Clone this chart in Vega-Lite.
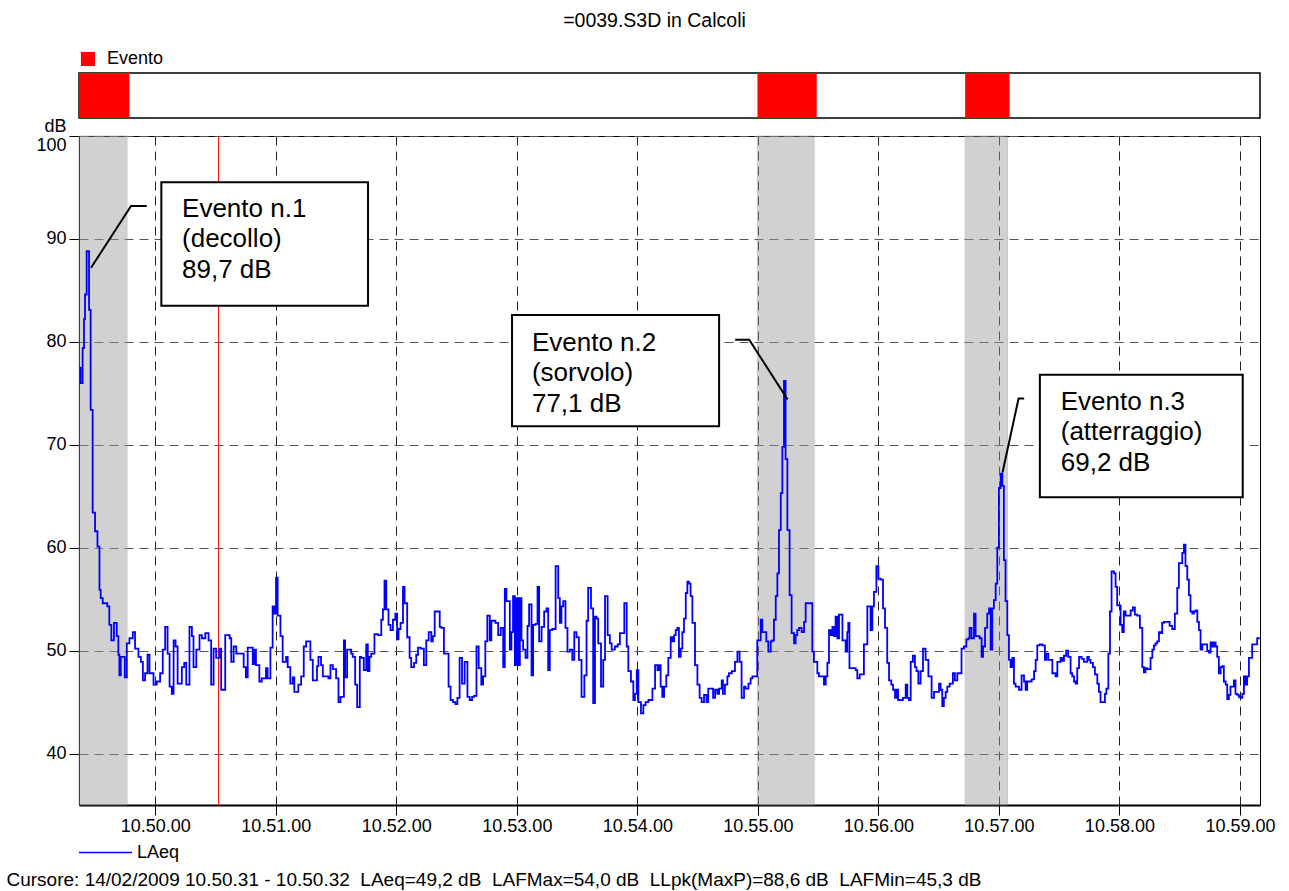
{
  "$schema": "https://vega.github.io/schema/vega-lite/v6.json",
  "background": "white",
  "padding": {"left": 5, "top": 10, "right": 10, "bottom": 2},
  "title": {"text": "=0039.S3D in Calcoli", "fontSize": 19.5, "fontWeight": "normal", "font": "Liberation Sans", "color": "black", "anchor": "middle", "offset": 18, "dx": 14},
  "config": {
    "font": "Liberation Sans",
    "view": {"stroke": "black", "strokeWidth": 1},
    "axis": {"labelColor": "black", "titleColor": "black", "labelFont": "Liberation Sans", "titleFont": "Liberation Sans"},
    "legend": {"labelColor": "black", "labelFont": "Liberation Sans"}
  },
  "datasets": {
    "events": [
      {"start": -38, "end": -14.1, "bar_end": -12.9},
      {"start": 299.8, "end": 328.0, "bar_end": 329.3},
      {"start": 403.2, "end": 424.3, "bar_end": 425.3}
    ],
    "trace": [
      {"t": -37.8, "v": 77.5}, {"t": -37.2, "v": 76.0}, {"t": -36.2, "v": 79.4}, {"t": -35.5, "v": 82.2}, {"t": -35.0, "v": 84.6}, {"t": -34.2, "v": 88.8}, {"t": -33.0, "v": 83.1}, {"t": -32.2, "v": 73.4}, {"t": -31.2, "v": 63.4}, {"t": -30.0, "v": 61.6}, {"t": -28.8, "v": 60.1}, {"t": -27.8, "v": 55.9}, {"t": -27.2, "v": 55.1}, {"t": -26.2, "v": 54.6}, {"t": -23.9, "v": 54.3}, {"t": -22.9, "v": 52.5}, {"t": -21.9, "v": 51.0}, {"t": -20.6, "v": 52.7}, {"t": -19.2, "v": 51.4}, {"t": -18.4, "v": 49.6}, {"t": -17.9, "v": 47.6}, {"t": -17.2, "v": 49.4}, {"t": -15.2, "v": 47.4}, {"t": -14.2, "v": 50.7}, {"t": -12.9, "v": 51.2}, {"t": -11.2, "v": 51.8}, {"t": -10.1, "v": 50.2}, {"t": -8.4, "v": 49.4}, {"t": -7.2, "v": 48.9}, {"t": -6.2, "v": 47.1}, {"t": -5.1, "v": 47.8}, {"t": -3.9, "v": 49.6}, {"t": -2.9, "v": 47.8}, {"t": -0.9, "v": 46.7}, {"t": 0.7, "v": 47.0}, {"t": 2.4, "v": 47.8}, {"t": 3.7, "v": 50.1}, {"t": 4.9, "v": 52.3}, {"t": 6.1, "v": 49.7}, {"t": 7.1, "v": 46.5}, {"t": 8.2, "v": 45.8}, {"t": 9.1, "v": 51.0}, {"t": 10.1, "v": 50.4}, {"t": 11.1, "v": 46.8}, {"t": 13.2, "v": 48.4}, {"t": 14.4, "v": 48.8}, {"t": 15.4, "v": 46.7}, {"t": 17.0, "v": 52.3}, {"t": 18.2, "v": 51.4}, {"t": 19.0, "v": 48.4}, {"t": 20.4, "v": 50.1}, {"t": 22.0, "v": 51.5}, {"t": 23.2, "v": 51.2}, {"t": 24.9, "v": 51.7}, {"t": 26.5, "v": 51.0}, {"t": 27.8, "v": 46.7}, {"t": 29.0, "v": 50.2}, {"t": 30.3, "v": 49.3}, {"t": 32.0, "v": 50.2}, {"t": 32.8, "v": 46.2}, {"t": 34.8, "v": 51.5}, {"t": 37.0, "v": 51.2}, {"t": 37.8, "v": 48.9}, {"t": 39.0, "v": 50.4}, {"t": 40.3, "v": 49.7},
      {"t": 42.6, "v": 49.7}, {"t": 44.0, "v": 48.4}, {"t": 45.1, "v": 47.4}, {"t": 46.0, "v": 50.3}, {"t": 48.5, "v": 48.7}, {"t": 49.3, "v": 50.1}, {"t": 50.1, "v": 48.6}, {"t": 51.8, "v": 47.0}, {"t": 53.0, "v": 47.3}, {"t": 55.1, "v": 48.3}, {"t": 55.9, "v": 47.3}, {"t": 57.3, "v": 50.3}, {"t": 58.4, "v": 54.3}, {"t": 59.3, "v": 53.6}, {"t": 60.1, "v": 57.1}, {"t": 60.9, "v": 53.4}, {"t": 62.3, "v": 51.4}, {"t": 63.4, "v": 48.9}, {"t": 65.1, "v": 49.4}, {"t": 65.9, "v": 48.4}, {"t": 67.2, "v": 46.8}, {"t": 68.4, "v": 47.4}, {"t": 69.2, "v": 46.0}, {"t": 71.2, "v": 46.7}, {"t": 72.6, "v": 47.5}, {"t": 73.9, "v": 50.4}, {"t": 75.1, "v": 50.9}, {"t": 77.2, "v": 49.1}, {"t": 78.4, "v": 47.1}, {"t": 80.5, "v": 48.5}, {"t": 81.2, "v": 49.4}, {"t": 82.5, "v": 48.6}, {"t": 83.4, "v": 47.5}, {"t": 86.2, "v": 47.3}, {"t": 87.2, "v": 48.6}, {"t": 88.4, "v": 48.2}, {"t": 90.0, "v": 47.3}, {"t": 91.2, "v": 45.0}, {"t": 92.2, "v": 45.5}, {"t": 93.9, "v": 51.0}, {"t": 94.5, "v": 47.4}, {"t": 95.5, "v": 50.1}, {"t": 97.5, "v": 49.7}, {"t": 98.3, "v": 49.4}, {"t": 99.5, "v": 46.7}, {"t": 100.5, "v": 44.5}, {"t": 101.8, "v": 49.4}, {"t": 102.5, "v": 49.3}, {"t": 103.8, "v": 48.1}, {"t": 105.0, "v": 50.6}, {"t": 105.8, "v": 48.0}, {"t": 106.6, "v": 49.4}, {"t": 107.5, "v": 49.7}, {"t": 109.1, "v": 51.6}, {"t": 110.8, "v": 51.5}, {"t": 112.5, "v": 53.0}, {"t": 113.3, "v": 54.0}, {"t": 114.1, "v": 56.8}, {"t": 115.0, "v": 54.0}, {"t": 116.1, "v": 52.5}, {"t": 117.1, "v": 52.0}, {"t": 118.3, "v": 53.0}, {"t": 119.5, "v": 53.6}, {"t": 120.4, "v": 51.1}, {"t": 121.1, "v": 52.1}, {"t": 122.1, "v": 52.7}, {"t": 123.3, "v": 56.2}, {"t": 124.1, "v": 54.6}, {"t": 125.4, "v": 51.3}, {"t": 126.6, "v": 49.3}, {"t": 127.4, "v": 48.4}, {"t": 128.8, "v": 48.8}, {"t": 129.9, "v": 49.6}, {"t": 130.8, "v": 50.3}, {"t": 132.1, "v": 50.2}, {"t": 133.7, "v": 48.6}, {"t": 134.9, "v": 51.0}, {"t": 136.1, "v": 51.8}, {"t": 137.4, "v": 50.9}, {"t": 138.2, "v": 51.4}, {"t": 139.1, "v": 53.8}, {"t": 141.6, "v": 52.3}, {"t": 142.4, "v": 52.2}, {"t": 143.7, "v": 49.7}, {"t": 146.0, "v": 46.5},
      {"t": 147.0, "v": 45.2}, {"t": 148.2, "v": 45.0}, {"t": 149.4, "v": 44.8}, {"t": 150.4, "v": 45.4}, {"t": 151.5, "v": 49.3}, {"t": 152.7, "v": 46.8}, {"t": 154.0, "v": 48.9}, {"t": 155.4, "v": 45.5}, {"t": 156.5, "v": 45.2}, {"t": 157.7, "v": 45.5}, {"t": 158.7, "v": 45.6}, {"t": 159.9, "v": 50.4}, {"t": 161.0, "v": 48.3}, {"t": 162.3, "v": 46.7}, {"t": 163.2, "v": 47.5}, {"t": 164.3, "v": 50.9}, {"t": 165.3, "v": 53.4}, {"t": 166.5, "v": 51.0}, {"t": 167.3, "v": 52.9}, {"t": 169.3, "v": 52.7}, {"t": 170.7, "v": 51.5}, {"t": 172.0, "v": 52.2}, {"t": 173.2, "v": 48.4}, {"t": 174.0, "v": 56.0}, {"t": 174.8, "v": 54.8}, {"t": 176.5, "v": 50.1}, {"t": 177.3, "v": 51.8}, {"t": 178.1, "v": 55.3}, {"t": 179.0, "v": 48.6}, {"t": 179.8, "v": 55.1}, {"t": 180.6, "v": 48.6}, {"t": 181.5, "v": 55.1}, {"t": 182.3, "v": 51.0}, {"t": 183.1, "v": 50.1}, {"t": 184.3, "v": 49.3}, {"t": 185.3, "v": 52.4}, {"t": 186.1, "v": 54.5}, {"t": 187.3, "v": 47.6}, {"t": 188.1, "v": 52.5}, {"t": 189.3, "v": 52.6}, {"t": 190.3, "v": 56.2}, {"t": 191.1, "v": 50.9}, {"t": 192.3, "v": 52.3}, {"t": 193.6, "v": 53.8}, {"t": 194.8, "v": 54.1}, {"t": 195.6, "v": 48.1}, {"t": 196.4, "v": 52.0}, {"t": 197.6, "v": 52.1}, {"t": 199.3, "v": 58.2}, {"t": 200.6, "v": 55.1}, {"t": 201.4, "v": 52.7}, {"t": 202.2, "v": 54.3}, {"t": 203.1, "v": 54.8}, {"t": 204.2, "v": 52.2}, {"t": 205.2, "v": 49.9}, {"t": 206.4, "v": 50.1}, {"t": 207.6, "v": 49.1}, {"t": 208.6, "v": 51.8}, {"t": 209.7, "v": 51.3}, {"t": 210.9, "v": 49.1}, {"t": 212.2, "v": 45.5}, {"t": 213.6, "v": 47.6}, {"t": 214.7, "v": 52.9}, {"t": 215.5, "v": 56.1}, {"t": 216.9, "v": 54.1}, {"t": 218.0, "v": 44.9}, {"t": 218.9, "v": 53.3}, {"t": 219.7, "v": 53.1}, {"t": 220.5, "v": 50.7}, {"t": 221.9, "v": 46.5}, {"t": 223.0, "v": 49.1}, {"t": 223.9, "v": 55.3}, {"t": 225.2, "v": 51.5}, {"t": 226.3, "v": 50.7}, {"t": 227.2, "v": 50.1}, {"t": 228.8, "v": 50.4}, {"t": 230.2, "v": 50.6}, {"t": 231.3, "v": 51.7}, {"t": 233.5, "v": 54.6}, {"t": 234.7, "v": 50.4}, {"t": 235.5, "v": 48.0}, {"t": 236.8, "v": 47.0}, {"t": 238.0, "v": 45.2}, {"t": 238.8, "v": 45.8}, {"t": 239.7, "v": 48.1}, {"t": 240.5, "v": 45.0}, {"t": 241.8, "v": 43.9}, {"t": 243.0, "v": 44.7}, {"t": 244.1, "v": 45.0}, {"t": 245.5, "v": 45.2},
      {"t": 247.5, "v": 46.3}, {"t": 248.8, "v": 48.6}, {"t": 250.0, "v": 48.1}, {"t": 250.8, "v": 48.6}, {"t": 251.6, "v": 46.5}, {"t": 252.4, "v": 45.5}, {"t": 253.3, "v": 46.5}, {"t": 254.4, "v": 47.6}, {"t": 255.4, "v": 49.3}, {"t": 256.6, "v": 51.3}, {"t": 257.4, "v": 50.9}, {"t": 258.3, "v": 51.5}, {"t": 259.1, "v": 52.0}, {"t": 259.9, "v": 52.2}, {"t": 260.7, "v": 49.4}, {"t": 261.6, "v": 50.2}, {"t": 262.4, "v": 51.8}, {"t": 263.2, "v": 53.1}, {"t": 264.1, "v": 55.6}, {"t": 264.9, "v": 56.7}, {"t": 265.7, "v": 56.5}, {"t": 266.5, "v": 55.3}, {"t": 267.4, "v": 52.7}, {"t": 268.7, "v": 48.6}, {"t": 269.9, "v": 46.7}, {"t": 271.0, "v": 45.4}, {"t": 272.0, "v": 45.0}, {"t": 273.2, "v": 45.7}, {"t": 274.4, "v": 45.0}, {"t": 275.3, "v": 46.3}, {"t": 277.7, "v": 45.4}, {"t": 278.7, "v": 46.2}, {"t": 279.8, "v": 45.8}, {"t": 280.7, "v": 46.3}, {"t": 282.0, "v": 47.1}, {"t": 282.6, "v": 45.8}, {"t": 283.6, "v": 46.7}, {"t": 284.8, "v": 47.5}, {"t": 285.6, "v": 47.8}, {"t": 287.0, "v": 48.0}, {"t": 288.6, "v": 48.9}, {"t": 289.8, "v": 49.9}, {"t": 290.9, "v": 48.9}, {"t": 291.9, "v": 45.4}, {"t": 293.1, "v": 46.5}, {"t": 293.9, "v": 46.3}, {"t": 295.3, "v": 46.8}, {"t": 296.4, "v": 47.3}, {"t": 297.3, "v": 47.5}, {"t": 299.7, "v": 51.0}, {"t": 301.4, "v": 53.0}, {"t": 302.2, "v": 51.8}, {"t": 304.2, "v": 50.9}, {"t": 305.2, "v": 49.9}, {"t": 306.4, "v": 50.9}, {"t": 307.2, "v": 51.0}, {"t": 308.0, "v": 53.0}, {"t": 308.9, "v": 55.3}, {"t": 309.7, "v": 57.5}, {"t": 310.5, "v": 61.7}, {"t": 311.4, "v": 65.3}, {"t": 312.2, "v": 69.8}, {"t": 313.0, "v": 76.2}, {"t": 313.8, "v": 68.6}, {"t": 314.7, "v": 61.7}, {"t": 315.8, "v": 55.4}, {"t": 316.8, "v": 51.7}, {"t": 318.0, "v": 50.7}, {"t": 318.8, "v": 51.5}, {"t": 319.6, "v": 52.0}, {"t": 320.5, "v": 52.2}, {"t": 321.8, "v": 51.8}, {"t": 323.0, "v": 52.8}, {"t": 323.8, "v": 54.6}, {"t": 327.1, "v": 49.9}, {"t": 327.9, "v": 48.9}, {"t": 329.6, "v": 47.8}, {"t": 330.4, "v": 47.5}, {"t": 332.9, "v": 46.7}, {"t": 333.8, "v": 47.5}, {"t": 334.6, "v": 48.8}, {"t": 335.4, "v": 52.0}, {"t": 336.2, "v": 51.5}, {"t": 337.1, "v": 52.3}, {"t": 337.9, "v": 51.4}, {"t": 338.7, "v": 53.3}, {"t": 339.6, "v": 51.2}, {"t": 340.4, "v": 53.5}, {"t": 342.1, "v": 51.0}, {"t": 343.7, "v": 49.9}, {"t": 344.5, "v": 51.8}, {"t": 345.0, "v": 52.7}, {"t": 345.6, "v": 48.3},
      {"t": 348.7, "v": 48.1}, {"t": 349.5, "v": 47.3}, {"t": 350.7, "v": 47.7}, {"t": 352.8, "v": 50.6}, {"t": 354.5, "v": 54.3}, {"t": 356.1, "v": 52.0}, {"t": 357.0, "v": 54.3}, {"t": 357.8, "v": 55.7}, {"t": 359.0, "v": 58.2}, {"t": 360.0, "v": 57.0}, {"t": 361.1, "v": 56.9}, {"t": 362.3, "v": 54.1}, {"t": 363.3, "v": 52.2}, {"t": 364.4, "v": 48.8}, {"t": 365.3, "v": 47.1}, {"t": 366.4, "v": 46.7}, {"t": 367.3, "v": 46.2}, {"t": 368.3, "v": 45.4}, {"t": 368.9, "v": 46.2}, {"t": 369.8, "v": 45.2}, {"t": 372.2, "v": 45.4}, {"t": 373.6, "v": 46.7}, {"t": 374.4, "v": 45.4}, {"t": 375.2, "v": 45.2}, {"t": 376.1, "v": 48.9}, {"t": 377.2, "v": 49.5}, {"t": 378.2, "v": 48.4}, {"t": 379.0, "v": 48.0}, {"t": 379.9, "v": 46.8}, {"t": 381.0, "v": 48.0}, {"t": 382.2, "v": 50.2}, {"t": 383.5, "v": 49.1}, {"t": 384.9, "v": 47.5}, {"t": 386.5, "v": 45.4}, {"t": 387.7, "v": 46.0}, {"t": 390.2, "v": 46.8}, {"t": 391.0, "v": 46.2}, {"t": 391.8, "v": 44.6}, {"t": 392.6, "v": 45.4}, {"t": 393.5, "v": 46.0}, {"t": 394.3, "v": 46.5}, {"t": 395.5, "v": 46.8}, {"t": 397.1, "v": 47.8}, {"t": 398.1, "v": 47.1}, {"t": 399.3, "v": 47.8}, {"t": 401.4, "v": 50.2}, {"t": 402.6, "v": 50.4}, {"t": 403.8, "v": 51.1}, {"t": 404.8, "v": 51.2}, {"t": 405.4, "v": 52.2}, {"t": 406.4, "v": 51.2}, {"t": 407.6, "v": 53.6}, {"t": 408.4, "v": 51.4}, {"t": 410.4, "v": 51.2}, {"t": 411.4, "v": 49.4}, {"t": 412.1, "v": 50.4}, {"t": 413.1, "v": 52.2}, {"t": 414.2, "v": 53.6}, {"t": 415.1, "v": 54.1}, {"t": 415.9, "v": 50.1}, {"t": 416.7, "v": 54.1}, {"t": 417.5, "v": 54.9}, {"t": 418.4, "v": 56.5}, {"t": 419.2, "v": 60.0}, {"t": 420.0, "v": 65.8}, {"t": 420.9, "v": 67.2}, {"t": 421.7, "v": 66.0}, {"t": 422.5, "v": 58.8}, {"t": 423.3, "v": 54.8}, {"t": 424.2, "v": 51.5}, {"t": 425.0, "v": 49.1}, {"t": 425.8, "v": 48.4}, {"t": 426.7, "v": 49.3}, {"t": 427.5, "v": 46.8}, {"t": 428.3, "v": 46.5}, {"t": 430.0, "v": 46.2}, {"t": 431.3, "v": 47.6}, {"t": 432.5, "v": 47.0}, {"t": 433.3, "v": 46.2}, {"t": 434.1, "v": 47.0}, {"t": 436.3, "v": 47.2}, {"t": 437.5, "v": 48.0}, {"t": 438.3, "v": 49.1}, {"t": 439.1, "v": 50.5}, {"t": 440.3, "v": 50.6}, {"t": 441.6, "v": 50.5}, {"t": 442.9, "v": 49.1}, {"t": 443.6, "v": 49.7}, {"t": 444.6, "v": 49.1}, {"t": 446.6, "v": 47.8},
      {"t": 448.2, "v": 47.5}, {"t": 449.1, "v": 48.9}, {"t": 450.7, "v": 49.3}, {"t": 451.6, "v": 49.0}, {"t": 452.4, "v": 49.5}, {"t": 453.5, "v": 50.0}, {"t": 454.5, "v": 49.4}, {"t": 455.7, "v": 47.8}, {"t": 456.5, "v": 47.5}, {"t": 457.4, "v": 47.0}, {"t": 458.2, "v": 46.8}, {"t": 459.0, "v": 48.3}, {"t": 459.9, "v": 49.4}, {"t": 461.2, "v": 49.2}, {"t": 462.3, "v": 48.9}, {"t": 464.0, "v": 49.4}, {"t": 464.8, "v": 49.1}, {"t": 465.6, "v": 48.8}, {"t": 466.8, "v": 48.4}, {"t": 467.8, "v": 47.7}, {"t": 469.0, "v": 46.8}, {"t": 469.8, "v": 46.0}, {"t": 470.6, "v": 45.0}, {"t": 472.8, "v": 45.8}, {"t": 473.5, "v": 46.3}, {"t": 474.5, "v": 49.7}, {"t": 475.3, "v": 53.8}, {"t": 476.1, "v": 57.7}, {"t": 477.3, "v": 57.5}, {"t": 478.1, "v": 56.2}, {"t": 478.9, "v": 54.4}, {"t": 480.6, "v": 52.5}, {"t": 481.4, "v": 51.8}, {"t": 482.2, "v": 53.8}, {"t": 483.1, "v": 53.4}, {"t": 485.6, "v": 53.9}, {"t": 486.7, "v": 54.2}, {"t": 487.7, "v": 53.5}, {"t": 488.9, "v": 53.4}, {"t": 490.2, "v": 52.2}, {"t": 491.4, "v": 48.4}, {"t": 492.2, "v": 47.9}, {"t": 493.0, "v": 48.3}, {"t": 493.9, "v": 48.2}, {"t": 495.5, "v": 49.3}, {"t": 496.4, "v": 50.1}, {"t": 497.2, "v": 50.5}, {"t": 498.0, "v": 50.7}, {"t": 498.8, "v": 50.9}, {"t": 499.7, "v": 51.8}, {"t": 500.5, "v": 51.7}, {"t": 501.3, "v": 52.7}, {"t": 502.2, "v": 52.8}, {"t": 505.0, "v": 52.4}, {"t": 506.3, "v": 52.1}, {"t": 507.6, "v": 53.6}, {"t": 508.8, "v": 56.1}, {"t": 509.6, "v": 58.5}, {"t": 511.3, "v": 59.5}, {"t": 512.1, "v": 60.3}, {"t": 512.9, "v": 58.2}, {"t": 513.8, "v": 56.9}, {"t": 514.6, "v": 55.4}, {"t": 515.4, "v": 53.8}, {"t": 516.3, "v": 53.6}, {"t": 517.1, "v": 53.8}, {"t": 517.9, "v": 53.9}, {"t": 518.8, "v": 52.8}, {"t": 519.6, "v": 52.0}, {"t": 520.4, "v": 50.1}, {"t": 521.3, "v": 50.6}, {"t": 523.7, "v": 50.0}, {"t": 524.6, "v": 49.8}, {"t": 525.4, "v": 50.8}, {"t": 526.2, "v": 50.4}, {"t": 527.0, "v": 50.8}, {"t": 527.9, "v": 50.4}, {"t": 528.7, "v": 49.4}, {"t": 529.5, "v": 47.8}, {"t": 530.4, "v": 48.4}, {"t": 531.2, "v": 48.5}, {"t": 532.0, "v": 47.0}, {"t": 532.9, "v": 46.7}, {"t": 533.7, "v": 45.3}, {"t": 534.5, "v": 45.7}, {"t": 535.3, "v": 46.5}, {"t": 537.0, "v": 47.1}, {"t": 537.8, "v": 45.8}, {"t": 538.7, "v": 45.7}, {"t": 539.5, "v": 45.5}, {"t": 540.3, "v": 45.4}, {"t": 541.2, "v": 45.8}, {"t": 542.0, "v": 47.5}, {"t": 542.8, "v": 46.7}, {"t": 543.6, "v": 47.5}, {"t": 544.5, "v": 49.3}, {"t": 546.1, "v": 50.6}, {"t": 548.6, "v": 51.2}, {"t": 549.9, "v": 51.2}
    ],
    "boxes": [
      {"id": 1, "x1": 3.0, "x2": 105.9, "y1": 95.5, "y2": 83.5, "tx": 13.3, "ty": 92.16, "lines": ["Evento n.1", "(decollo)", "89,7 dB"]},
      {"id": 2, "x1": 177.6, "x2": 280.7, "y1": 82.6, "y2": 71.8, "tx": 187.5, "ty": 79.15, "lines": ["Evento n.2", "(sorvolo)", "77,1 dB"]},
      {"id": 3, "x1": 440.4, "x2": 541.4, "y1": 76.8, "y2": 64.9, "tx": 450.8, "ty": 73.4, "lines": ["Evento n.3", "(atterraggio)", "69,2 dB"]}
    ],
    "leaders": [
      {"id": 1, "o": 0, "t": -4.3, "v": 93.2}, {"id": 1, "o": 1, "t": -12.1, "v": 93.2}, {"id": 1, "o": 2, "t": -32.0, "v": 87.2},
      {"id": 2, "o": 0, "t": 288.7, "v": 80.2}, {"id": 2, "o": 1, "t": 295.7, "v": 80.2}, {"id": 2, "o": 2, "t": 314.8, "v": 74.4},
      {"id": 3, "o": 0, "t": 432.6, "v": 74.5}, {"id": 3, "o": 1, "t": 429.8, "v": 74.5}, {"id": 3, "o": 2, "t": 421.8, "v": 67.3}
    ]
  },
  "spacing": -3,
  "resolve": {"scale": {"x": "independent", "color": "independent"}},
  "vconcat": [
    {
      "width": 1181,
      "height": 45,
      "view": {"stroke": "black", "strokeWidth": 1.5},
      "data": {"name": "events"},
      "mark": {"type": "rect"},
      "encoding": {
        "x": {"field": "start", "type": "quantitative", "scale": {"domain": [-38, 550], "nice": false, "zero": false}, "axis": null},
        "x2": {"field": "bar_end"},
        "color": {"datum": "Evento", "type": "nominal", "scale": {"range": ["#ff0000"]},
          "legend": {"orient": "none", "legendX": 0, "legendY": -23, "title": null, "symbolType": "square", "symbolSize": 200, "symbolStrokeWidth": 0, "symbolOpacity": 1, "labelFontSize": 18, "labelOffset": 10, "padding": 0}}
      }
    },
    {
      "width": 1181,
      "height": 669,
      "layer": [
        {
          "data": {"name": "events"},
          "mark": {"type": "rect", "fill": "#9a9a9a", "opacity": 0.45, "stroke": "#888888", "strokeWidth": 1},
          "encoding": {
            "x": {"field": "start", "type": "quantitative", "scale": {"domain": [-38, 550], "nice": false, "zero": false}},
            "x2": {"field": "end"}
          }
        },
        {
          "data": {"values": [{"t": 31.5}]},
          "mark": {"type": "rule", "color": "#ff0000", "strokeWidth": 1},
          "encoding": {"x": {"field": "t", "type": "quantitative"}}
        },
        {
          "data": {"name": "trace"},
          "mark": {"type": "line", "interpolate": "step-after", "strokeWidth": 1.8},
          "encoding": {
            "x": {"field": "t", "type": "quantitative", "scale": {"domain": [-38, 550], "nice": false, "zero": false},
              "axis": {"values": [0, 60, 120, 180, 240, 300, 360, 420, 480, 540], "labelExpr": "'10.5' + format(datum.value / 60, 'd') + '.00'",
                "title": "Cursore: 14/02/2009 10.50.31 - 10.50.32\u00a0 LAeq=49,2 dB\u00a0 LAFMax=54,0 dB\u00a0 LLpk(MaxP)=88,6 dB\u00a0 LAFMin=45,3 dB",
                "titleX": -73, "titleY": 80, "titleAlign": "left", "titleAnchor": "start", "titleBaseline": "alphabetic", "titleFontSize": 19, "titleFontWeight": "normal",
                "labelFontSize": 18, "labelPadding": 2, "tickSize": 10, "tickColor": "black", "domainColor": "black", "domainWidth": 2,
                "grid": true, "gridDash": [9, 6], "gridColor": "#222222", "gridWidth": 1, "labelFlush": false}},
            "y": {"field": "v", "type": "quantitative", "scale": {"domain": [35, 100], "nice": false, "zero": false},
              "axis": {"values": [40, 50, 60, 70, 80, 90, 100], "title": "dB", "titleAngle": 0, "titleX": -13, "titleY": -5, "titleAlign": "right", "titleBaseline": "alphabetic", "titleFontSize": 18, "titleFontWeight": "normal",
                "labelFontSize": 18, "labelPadding": 3, "labelFlush": true, "tickSize": 10, "tickColor": "black", "domainColor": "black",
                "grid": true, "gridDash": [9, 6], "gridColor": "#555555", "gridWidth": 1}},
            "stroke": {"datum": "LAeq", "type": "nominal", "scale": {"range": ["#0000ff"]},
              "legend": {"orient": "none", "legendX": -1, "legendY": 752, "title": null, "symbolType": "stroke", "symbolSize": 2800, "symbolStrokeWidth": 1.5, "labelFontSize": 18, "labelOffset": 4, "padding": 0}}
          }
        },
        {
          "data": {"name": "leaders"},
          "mark": {"type": "line", "color": "black", "strokeWidth": 2},
          "encoding": {
            "x": {"field": "t", "type": "quantitative"},
            "y": {"field": "v", "type": "quantitative"},
            "detail": {"field": "id", "type": "nominal"},
            "order": {"field": "o", "type": "quantitative"}
          }
        },
        {
          "data": {"name": "boxes"},
          "mark": {"type": "rect", "fill": "white", "stroke": "black", "strokeWidth": 2},
          "encoding": {
            "x": {"field": "x1", "type": "quantitative"},
            "x2": {"field": "x2"},
            "y": {"field": "y1", "type": "quantitative"},
            "y2": {"field": "y2"}
          }
        },
        {
          "data": {"name": "boxes"},
          "mark": {"type": "text", "align": "left", "baseline": "alphabetic", "fontSize": 26, "lineHeight": 30.5, "color": "black"},
          "encoding": {
            "x": {"field": "tx", "type": "quantitative"},
            "y": {"field": "ty", "type": "quantitative"},
            "text": {"field": "lines", "type": "nominal"}
          }
        }
      ]
    }
  ]
}
